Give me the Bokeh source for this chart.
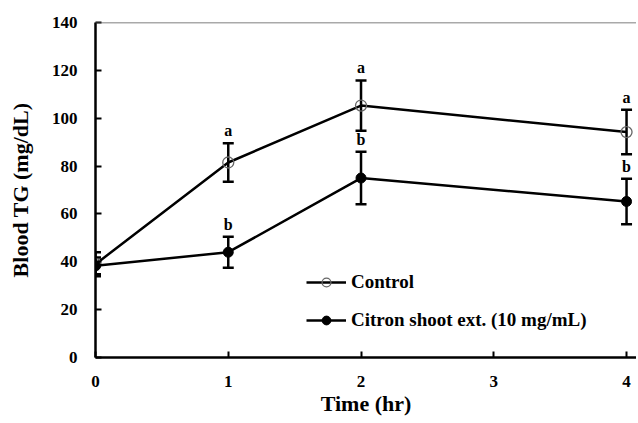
from bokeh.plotting import figure
from bokeh.models import (ColumnDataSource, Whisker, TeeHead, FixedTicker, Span,
                          Legend, LegendItem, Range1d)
from bokeh.core.properties import value
from bokeh.embed import file_html
from bokeh.resources import INLINE

time_hr = [0, 1, 2, 4]
control_mean = [39, 81.5, 105.3, 94.2]
control_sd = [5, 8, 10.5, 9.3]
citron_mean = [38.3, 44, 75, 65.2]
citron_sd = [3.5, 6.5, 11, 9.5]
control_letters = ["", "a", "a", "a"]
citron_letters = ["", "b", "b", "b"]
x_ticks = [0, 1, 2, 3, 4]
y_ticks = [0, 20, 40, 60, 80, 100, 120, 140]

FONT = "Liberation Serif"

p = figure(width=636, height=423, output_backend="svg", toolbar_location=None,
           x_range=Range1d(0, 4.075), y_range=Range1d(0, 140),
           min_border_left=95, min_border_right=0, min_border_top=22,
           min_border_bottom=66)
p.outline_line_color = None
p.grid.grid_line_color = None
p.background_fill_color = "white"

for ax in (p.xaxis[0], p.yaxis[0]):
    ax.axis_line_width = 2.5
    ax.axis_line_color = "black"
    ax.major_tick_in = 6
    ax.major_tick_out = 0
    ax.major_tick_line_width = 2
    ax.minor_tick_line_color = None
    ax.major_label_text_font = FONT
    ax.major_label_text_font_style = "bold"
    ax.major_label_text_font_size = "17px"
    ax.major_label_text_color = "black"
    ax.axis_label_text_font = FONT
    ax.axis_label_text_font_style = "bold"
    ax.axis_label_text_font_size = "22px"
    ax.axis_label_text_color = "black"

p.xaxis.ticker = FixedTicker(ticks=x_ticks)
p.yaxis.ticker = FixedTicker(ticks=y_ticks)
p.xaxis.major_label_standoff = 18
p.yaxis.major_label_standoff = 18
p.xaxis.axis_label = "Time (hr)"
p.yaxis.axis_label = "Blood TG (mg/dL)"
p.xaxis.axis_label_standoff = 1
p.yaxis.axis_label_standoff = 16

p.add_layout(Span(location=140, dimension="width", line_color="#555555", line_width=1.5))

ctrl = ColumnDataSource(dict(x=time_hr, y=control_mean,
                             upper=[m + s for m, s in zip(control_mean, control_sd)],
                             lower=[m - s for m, s in zip(control_mean, control_sd)],
                             lab=control_letters))
cit = ColumnDataSource(dict(x=time_hr, y=citron_mean,
                            upper=[m + s for m, s in zip(citron_mean, citron_sd)],
                            lower=[m - s for m, s in zip(citron_mean, citron_sd)],
                            lab=citron_letters))

for src in (ctrl, cit):
    w = Whisker(source=src, base="x", upper="upper", lower="lower", dimension="height",
                line_width=2.5, line_color="black",
                upper_head=TeeHead(size=11, line_width=2.5, line_color="black"),
                lower_head=TeeHead(size=11, line_width=2.5, line_color="black"))
    p.add_layout(w)

l1 = p.line("x", "y", source=ctrl, line_width=2.5, line_color="black")
s1 = p.scatter("x", "y", source=ctrl, size=11, marker="circle", fill_color=None,
               line_color="#666666", line_width=1.3)
l2 = p.line("x", "y", source=cit, line_width=2.5, line_color="black")
s2 = p.scatter("x", "y", source=cit, size=10, marker="circle", fill_color="black",
               line_color="black")

for src in (ctrl, cit):
    p.text("x", "upper", text="lab", source=src, text_font=value(FONT),
           text_font_style="bold", text_font_size="16px", text_align="center",
           text_baseline="bottom", y_offset=-4, text_color="black")

legend = Legend(items=[LegendItem(label="Control", renderers=[l1, s1]),
                       LegendItem(label="Citron shoot ext. (10 mg/mL)", renderers=[l2, s2])],
                location=(211, 26), orientation="vertical")
legend.border_line_color = None
legend.background_fill_alpha = 0
legend.padding = 0
legend.margin = 0
legend.spacing = 16
legend.glyph_width = 40
legend.glyph_height = 22
legend.label_height = 22
legend.label_standoff = 5
legend.label_text_font = FONT
legend.label_text_font_style = "bold"
legend.label_text_font_size = "19px"
legend.label_text_color = "black"
p.add_layout(legend, "center")

open("out.html", "w").write(file_html(p, INLINE))
